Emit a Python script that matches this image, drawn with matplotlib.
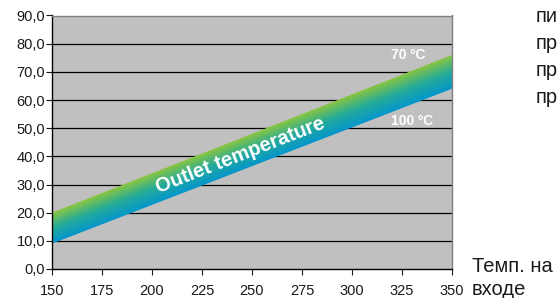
import numpy as np
import matplotlib
matplotlib.use("Agg")
import matplotlib.pyplot as plt
from matplotlib.colors import LinearSegmentedColormap
from matplotlib.patches import Polygon

# Data
inlet_temp = [150, 350]          # x range of the band
outlet_100 = [9, 64]             # lower edge (100 ºC)
outlet_70 = [20, 76]             # upper edge (70 ºC)
x_ticks = [150, 175, 200, 225, 250, 275, 300, 325, 350]
y_ticks = [0, 10, 20, 30, 40, 50, 60, 70, 80, 90]
side_lines = ["пи", "пр", "пр", "пр"]

plt.rcParams["font.family"] = ["Liberation Sans", "DejaVu Sans"]

W, H = 559, 298
fig = plt.figure(figsize=(W / 100, H / 100), dpi=100)
ax = fig.add_axes([52 / W, 1 - 269 / H, 400 / W, 253.5 / H])
ax.set_facecolor("#c0c0c0")
ax.set_xlim(x_ticks[0], x_ticks[-1])
ax.set_ylim(y_ticks[0], y_ticks[-1])

# black horizontal grid
for y in y_ticks[1:-1]:
    ax.axhline(y, color="black", lw=0.9, zorder=1)

# gradient band (green on top, blue below)
xs = np.linspace(x_ticks[0], x_ticks[-1], 400)
ys = np.linspace(y_ticks[0], y_ticks[-1], 600)
X, Y = np.meshgrid(xs, ys)
lo = np.interp(X, inlet_temp, outlet_100)
hi = np.interp(X, inlet_temp, outlet_70)
t = np.clip((Y - lo) / (hi - lo), 0, 1)
cmap = LinearSegmentedColormap.from_list("band", ["#0596cc", "#25ab98", "#8cc63f"])
im = ax.imshow(t, extent=(x_ticks[0], x_ticks[-1], y_ticks[0], y_ticks[-1]),
               origin="lower", cmap=cmap, aspect="auto", zorder=2,
               interpolation="bilinear")
poly = Polygon(list(zip(inlet_temp, outlet_100)) +
               list(zip(inlet_temp[::-1], outlet_70[::-1])),
               closed=True, facecolor="none", edgecolor="none")
ax.add_patch(poly)
im.set_clip_path(poly)

# spines and ticks
for side in ["left", "bottom"]:
    ax.spines[side].set_color("black")
    ax.spines[side].set_linewidth(1.0)
for side in ["top", "right"]:
    ax.spines[side].set_color("#808080")
    ax.spines[side].set_linewidth(1.0)
ax.set_xticks(x_ticks)
ax.set_yticks(y_ticks)
ax.set_yticklabels([f"{v:.1f}".replace(".", ",") for v in y_ticks])
ax.tick_params(direction="out", length=4, width=0.8, labelsize=10.5,
               colors="#1a1a1a")
ax.tick_params(axis="y", pad=1)
ax.tick_params(axis="x", pad=6.5)

# text along the band
p0 = ax.transData.transform((inlet_temp[0], (outlet_100[0] + outlet_70[0]) / 2))
p1 = ax.transData.transform((inlet_temp[1], (outlet_100[1] + outlet_70[1]) / 2))
angle = np.degrees(np.arctan2(p1[1] - p0[1], p1[0] - p0[0]))
ax.text(244, 40.3, "Outlet temperature", rotation=angle, rotation_mode="anchor",
        ha="center", va="center", color="white", fontsize=14.5,
        fontweight="bold", zorder=3)
ax.text(328, 76, "70 ºC", ha="center", va="center", color="white",
        fontsize=10, fontweight="bold", zorder=3)
ax.text(330, 52.6, "100 ºC", ha="center", va="center", color="white",
        fontsize=10, fontweight="bold", zorder=3)

# text outside the chart (cut by the picture edge)
for i, s in enumerate(side_lines):
    fig.text(536 / W, 1 - (22 + 27 * i) / H, s, ha="left", va="baseline",
             fontsize=14.5, color="#1a1a1a")
fig.text(472 / W, 1 - 272 / H, "Темп. на", ha="left", va="baseline",
         fontsize=14.5, color="#1a1a1a")
fig.text(472 / W, 1 - 295 / H, "входе", ha="left", va="baseline",
         fontsize=14.5, color="#1a1a1a")

fig.savefig("out.png", dpi=100)
